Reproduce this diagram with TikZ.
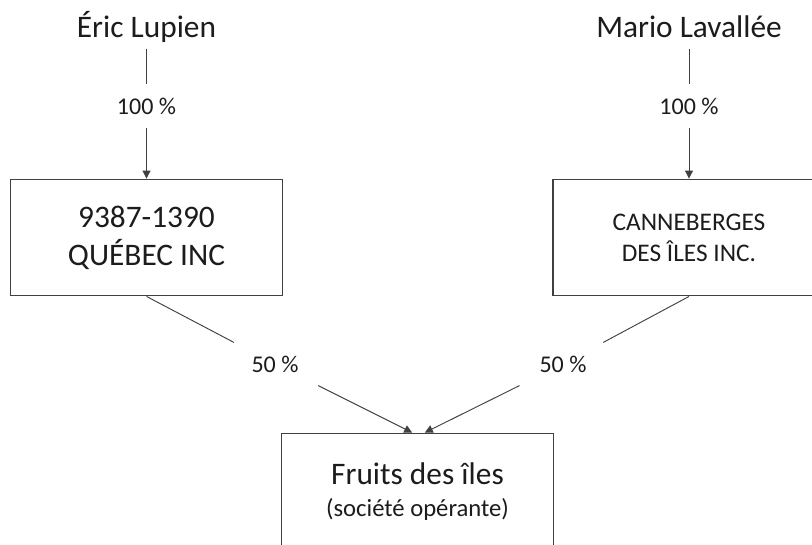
\documentclass[tikz,border=0pt]{standalone}
\usepackage{fontspec}
\setmainfont{Carlito}
\usetikzlibrary{arrows.meta}
\definecolor{linegray}{RGB}{64,64,64}
\definecolor{textgray}{RGB}{28,28,28}
\begin{document}
\begin{tikzpicture}[x=0.75pt,y=-0.75pt,
    owner/.style={anchor=base,inner sep=6pt,text depth=0.25em,text=textgray,font=\fontsize{23.5}{28.5}\selectfont},
    share/.style={minimum height=32pt,inner xsep=15pt,text=textgray,font=\fontsize{18}{22}\selectfont},
    company/.style={draw=linegray,line width=0.9pt,minimum width=204pt,minimum height=87.5pt,align=center,text=textgray},
    link/.style={draw=linegray,line width=0.7pt},
    tip/.style={link,-{Triangle[width=6pt,length=6pt]}}]
   \useasboundingbox (0,0) rectangle (812,544);
   \fill[white] (0,0) rectangle (812,544);
   \clip (0,0) rectangle (812,544);
    \node[owner] (eric) at (146.5,37) {Éric Lupien};
    \node[owner] (mario) at (689,37) {Mario Lavallée};
    \node[share] (shareE) at (146.5,106) {100 \%};
    \node[share] (shareM) at (689,106) {100 \%};
   \node[company,font=\fontsize{23.5}{28.5}\selectfont] (qc) at (146.5,237.5) {9387-1390\\QUÉBEC INC};
   \node[company,font=\fontsize{19}{23.25}\selectfont] (canne) at (689,237.5) {CANNEBERGES\\DES ÎLES INC.};
   \node[company,font=\fontsize{23.5}{24}\selectfont] (fruits) at (417.5,491.5) {Fruits des îles\\{\fontsize{18.5}{24}\selectfont (société opérante)}};
    \node[share] (shareQ) at (275,364) {50 \%};
    \node[share] (shareC) at (563,364) {50 \%};
   \draw[link] (eric) -- (shareE);
   \draw[tip] (shareE) -- (qc.north);
   \draw[link] (mario) -- (shareM);
   \draw[tip] (shareM) -- (canne.north);
   \draw[link] (qc.south) -- (shareQ);
   \draw[tip] (shareQ) -- ([xshift=-4pt]fruits.north);
   \draw[link] (canne.south) -- (shareC);
   \draw[tip] (shareC) -- ([xshift=5.5pt]fruits.north);
\end{tikzpicture}
\end{document}
